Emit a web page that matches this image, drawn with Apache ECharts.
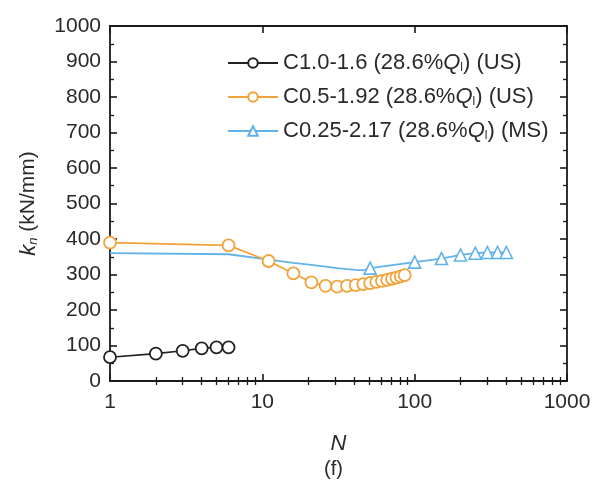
<!DOCTYPE html>
<html>
<head>
<meta charset="utf-8">
<script src="https://cdn.jsdelivr.net/npm/echarts@6/dist/echarts.min.js"></script>
<style>
html,body{margin:0;padding:0;background:#fff;}
#chart{width:599px;height:487px;}
</style>
</head>
<body>
<div id="chart"></div>
<script>
// ---- data ----
var blackN = [1, 2, 3, 4, 5, 6];
var blackK = [67, 77, 85, 92, 95, 95];

var orangeN = [1, 6, 11, 16, 21, 26, 31, 36, 41, 46, 51, 56, 61, 66, 71, 76, 81, 86];
var orangeK = [390, 382, 338, 303, 278, 268, 266, 268, 270, 273, 276, 279, 282, 285, 288, 291, 295, 298];

var blueN = [1, 6, 11, 16, 21, 26, 31, 36, 41, 46, 51, 100, 150, 200, 250, 300, 350, 400];
var blueK = [360, 357, 342, 333, 327, 322, 318, 315, 313, 312, 318, 335, 345, 355, 360, 362, 362, 362];
var blueMarkerFrom = 51;

var seriesNames = ['C1.0-1.6 (28.6%Q_l) (US)', 'C0.5-1.92 (28.6%Q_l) (US)', 'C0.25-2.17 (28.6%Q_l) (MS)'];
var legendRich = [
  'C1.0-1.6 (28.6%{q|Q}{s|l}) (US)',
  'C0.5-1.92 (28.6%{q|Q}{s|l}) (US)',
  'C0.25-2.17 (28.6%{q|Q}{s|l}) (MS)'
];

var xMinor = [2,3,4,5,6,7,8,9,20,30,40,50,60,70,80,90,200,300,400,500,600,700,800,900];

function pairs(xs, ys) { return xs.map(function (x, i) { return [x, ys[i]]; }); }

var FONT = 'Liberation Sans, Arial, sans-serif';
var AX = '#1a1a1a';
var TXT = '#2a2a2a';
var BLACK = '#222222', ORANGE = '#f2a23a', BLUE = '#62b2ea';

var chart = echarts.init(document.getElementById('chart'));

var blueData = blueN.map(function (x, i) {
  var d = { value: [x, blueK[i]] };
  if (x < blueMarkerFrom) d.symbol = 'none';
  return d;
});

function xAxisBase(pos) {
  return {
    type: 'log', logBase: 10, min: 1, max: 1000, position: pos,
    axisLine: { show: true, onZero: false, lineStyle: { color: AX, width: 1.8 } },
    splitLine: { show: false }
  };
}

var option = {
  backgroundColor: '#fff',
  animation: false,
  grid: { left: 110, right: 32, top: 26, bottom: 106, containLabel: false },
  legend: {
    orient: 'vertical', left: 222, top: 47, itemGap: 12,
    itemWidth: 50, itemHeight: 12,
    data: seriesNames,
    formatter: function (name) { return legendRich[seriesNames.indexOf(name)]; },
    textStyle: {
      fontFamily: FONT, fontSize: 22, color: TXT,
      rich: {
        q: { fontFamily: FONT, fontSize: 22, fontStyle: 'italic', color: TXT },
        s: { fontFamily: FONT, fontSize: 12, color: TXT, verticalAlign: 'bottom', padding: [10, 0, 0, 0] }
      }
    }
  },
  xAxis: [
    Object.assign(xAxisBase('bottom'), {
      name: 'N', nameLocation: 'middle', nameGap: 52,
      nameTextStyle: { fontFamily: FONT, fontSize: 22, fontStyle: 'italic', color: TXT },
      axisTick: { show: true, inside: true, length: 7, lineStyle: { color: AX, width: 1.6 } },
      axisLabel: { show: true, fontFamily: FONT, fontSize: 21, color: TXT, margin: 11,
        formatter: function (v) { return String(v); } }
    }),
    Object.assign(xAxisBase('top'), {
      axisTick: { show: true, inside: true, length: 7, lineStyle: { color: AX, width: 1.6 } },
      axisLabel: { show: false }
    }),
    Object.assign(xAxisBase('bottom'), {
      axisLine: { show: false },
      axisTick: { show: true, inside: true, length: 4, customValues: xMinor, lineStyle: { color: AX, width: 1.3 } },
      axisLabel: { show: false }
    }),
    Object.assign(xAxisBase('top'), {
      axisLine: { show: false },
      axisTick: { show: true, inside: true, length: 4, customValues: xMinor, lineStyle: { color: AX, width: 1.3 } },
      axisLabel: { show: false }
    })
  ],
  yAxis: [
    {
      type: 'value', min: 0, max: 1000, interval: 100, position: 'left',
      name: '{k|k}{n|n} (kN/mm)', nameLocation: 'middle', nameGap: 70, nameRotate: 90,
      nameTextStyle: {
        fontFamily: FONT, fontSize: 21, color: TXT,
        rich: {
          k: { fontFamily: FONT, fontSize: 22, fontStyle: 'italic', color: TXT },
          n: { fontFamily: FONT, fontSize: 13, fontStyle: 'italic', color: TXT, verticalAlign: 'bottom', padding: [10, 0, 0, 0] }
        }
      },
      axisLine: { show: true, onZero: false, lineStyle: { color: AX, width: 1.8 } },
      axisTick: { show: true, inside: true, length: 7, lineStyle: { color: AX, width: 1.6 } },
      minorTick: { show: true, splitNumber: 2, length: 4, lineStyle: { color: AX, width: 1.3 } },
      axisLabel: { fontFamily: FONT, fontSize: 21, color: TXT, margin: 9,
        formatter: function (v) { return String(v); } },
      splitLine: { show: false }
    },
    {
      type: 'value', min: 0, max: 1000, interval: 100, position: 'right',
      axisLine: { show: true, onZero: false, lineStyle: { color: AX, width: 1.8 } },
      axisTick: { show: true, inside: true, length: 7, lineStyle: { color: AX, width: 1.6 } },
      minorTick: { show: true, splitNumber: 2, length: 4, lineStyle: { color: AX, width: 1.3 } },
      axisLabel: { show: false },
      splitLine: { show: false }
    }
  ],
  graphic: [
    { type: 'text', left: 324, top: 459, style: { text: '(f)', fontFamily: FONT, fontSize: 20, fill: TXT } }
  ],
  series: [
    {
      name: seriesNames[2], type: 'line', xAxisIndex: 0, yAxisIndex: 0,
      data: blueData, symbol: 'triangle', symbolSize: 12,
      lineStyle: { color: BLUE, width: 1.8 },
      itemStyle: { color: '#fff', borderColor: BLUE, borderWidth: 1.6 },
      z: 2
    },
    {
      name: seriesNames[1], type: 'line', xAxisIndex: 0, yAxisIndex: 0,
      data: pairs(orangeN, orangeK), symbol: 'circle', symbolSize: 12,
      lineStyle: { color: ORANGE, width: 1.8 },
      itemStyle: { color: '#fff', borderColor: ORANGE, borderWidth: 1.8 },
      z: 3
    },
    {
      name: seriesNames[0], type: 'line', xAxisIndex: 0, yAxisIndex: 0,
      data: pairs(blackN, blackK), symbol: 'circle', symbolSize: 12,
      lineStyle: { color: BLACK, width: 1.6 },
      itemStyle: { color: '#fff', borderColor: BLACK, borderWidth: 1.8 },
      z: 4
    }
  ]
};
chart.setOption(option);
</script>
</body>
</html>
